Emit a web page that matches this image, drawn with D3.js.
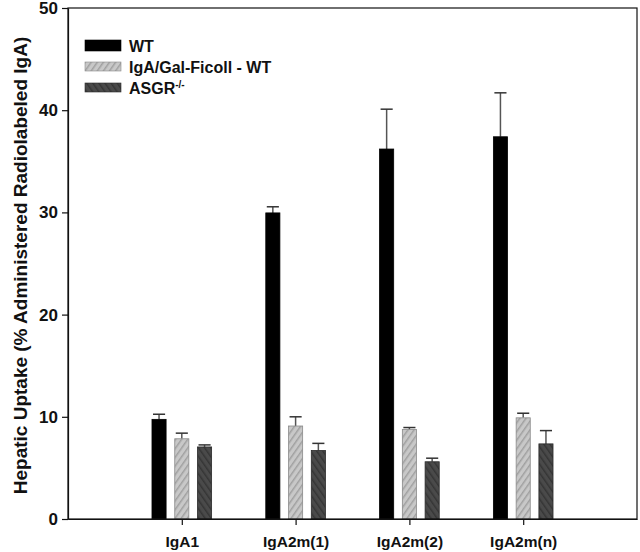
<!DOCTYPE html>
<html><head><meta charset="utf-8">
<script src="https://cdn.jsdelivr.net/npm/d3@7"></script>
<style>body{margin:0;background:#fff}svg{display:block}text{font-family:"Liberation Sans",Arial,sans-serif;font-weight:bold;fill:#111}</style>
</head><body>
<script>
const categories = ["IgA1", "IgA2m(1)", "IgA2m(2)", "IgA2m(n)"];
const seriesNames = ["WT", "IgA/Gal-Ficoll - WT", "ASGR"];
const wtValues = [9.75, 29.95, 36.2, 37.4];
const wtErrors = [0.5, 0.6, 3.9, 4.3];
const ficollValues = [7.85, 9.1, 8.75, 9.9];
const ficollErrors = [0.55, 0.9, 0.2, 0.45];
const asgrValues = [7.05, 6.7, 5.6, 7.35];
const asgrErrors = [0.2, 0.7, 0.35, 1.3];
const yTicks = [0, 10, 20, 30, 40, 50];

const W = 640, H = 552;
const m = {l: 68, r: 3, t: 8, b: 33};
const FONT = '"Liberation Sans",Arial,sans-serif';
const svg = d3.select("body").append("svg").attr("width", W).attr("height", H);
const defs = svg.append("defs");
function hatch(id, bg, fg, angle) {
  const p = defs.append("pattern").attr("id", id).attr("patternUnits", "userSpaceOnUse")
    .attr("width", 5).attr("height", 5).attr("patternTransform", `rotate(${angle})`);
  p.append("rect").attr("width", 5).attr("height", 5).attr("fill", bg);
  p.append("rect").attr("width", 1.5).attr("height", 5).attr("fill", fg);
}
hatch("hFicoll", "#c8c8c8", "#a0a0a0", 35);
hatch("hAsgr", "#4a4a4a", "#353535", -35);
const fills = ["#000", "url(#hFicoll)", "url(#hAsgr)"];
const strokes = ["#000", "#8a8a8a", "#2a2a2a"];

const x = d3.scaleLinear().domain([0, categories.length + 1]).range([m.l, W - m.r]);
const y = d3.scaleLinear().domain([0, 50]).range([H - m.b, m.t]);
const offsets = [-0.2, 0, 0.2];
const bw = 0.124;

const series = [
  {vals: wtValues, errs: wtErrors},
  {vals: ficollValues, errs: ficollErrors},
  {vals: asgrValues, errs: asgrErrors}
];

const g = svg.append("g");
series.forEach((s, si) => {
  categories.forEach((c, ci) => {
    const cx = x(ci + 1 + offsets[si]);
    const half = (x(bw) - x(0)) / 2;
    const top = y(s.vals[ci] + s.errs[ci]);
    g.append("line").attr("x1", cx).attr("x2", cx).attr("y1", y(s.vals[ci])).attr("y2", top)
      .attr("stroke", "#555").attr("stroke-width", 1.5);
    g.append("line").attr("x1", cx - half + 1).attr("x2", cx + half - 1).attr("y1", top).attr("y2", top)
      .attr("stroke", "#333").attr("stroke-width", 1.5);
    g.append("rect").attr("x", cx - half).attr("width", 2 * half)
      .attr("y", y(s.vals[ci])).attr("height", y(0) - y(s.vals[ci]))
      .attr("fill", fills[si]).attr("stroke", strokes[si]).attr("stroke-width", 0.8);
  });
});

// frame
svg.append("rect").attr("x", m.l).attr("y", m.t).attr("width", W - m.r - m.l).attr("height", H - m.b - m.t)
  .attr("fill", "none").attr("stroke", "#111").attr("stroke-width", 1.2);

const ya = svg.append("g").attr("transform", `translate(${m.l},0)`)
  .call(d3.axisLeft(y).tickValues(yTicks).tickSize(6).tickSizeOuter(0).tickPadding(4));
ya.select(".domain").attr("stroke", "#111").attr("stroke-width", 1.2);
ya.selectAll(".tick line").attr("stroke", "#111").attr("stroke-width", 1.2);
ya.selectAll(".tick text").style("font-size", "17px").style("font-family", FONT).style("font-weight", "bold").attr("fill", "#111");

const xa = svg.append("g").attr("transform", `translate(0,${H - m.b})`)
  .call(d3.axisBottom(x).tickValues(categories.map((c, i) => i + 1)).tickFormat((d) => categories[d - 1])
    .tickSize(6).tickSizeOuter(0).tickPadding(11));
xa.select(".domain").attr("stroke", "#111").attr("stroke-width", 1.2);
xa.selectAll(".tick line").attr("stroke", "#111").attr("stroke-width", 1.2);
xa.selectAll(".tick text").style("font-size", "15.5px").style("font-family", FONT).style("font-weight", "bold").attr("fill", "#111");

svg.append("text").attr("transform", `translate(27,${(m.t + H - m.b) / 2 + 2}) rotate(-90)`)
  .attr("text-anchor", "middle").style("font-size", "19px").text("Hepatic Uptake (% Administered Radiolabeled IgA)");

// legend
const lg = svg.append("g").attr("transform", "translate(85,40)");
seriesNames.forEach((n, i) => {
  const row = lg.append("g").attr("transform", `translate(0,${i * 21})`);
  row.append("rect").attr("width", 36).attr("height", i === 0 ? 11 : 9).attr("y", i === 0 ? 0 : 1)
    .attr("fill", fills[i]).attr("stroke", strokes[i]).attr("stroke-width", 0.6);
  const t = row.append("text").attr("x", 44).attr("y", 11.5).style("font-size", "16px").text(n);
  if (i === 2) t.append("tspan").attr("dy", -6).style("font-size", "10px").text("-/-");
});
</script>
</body></html>
